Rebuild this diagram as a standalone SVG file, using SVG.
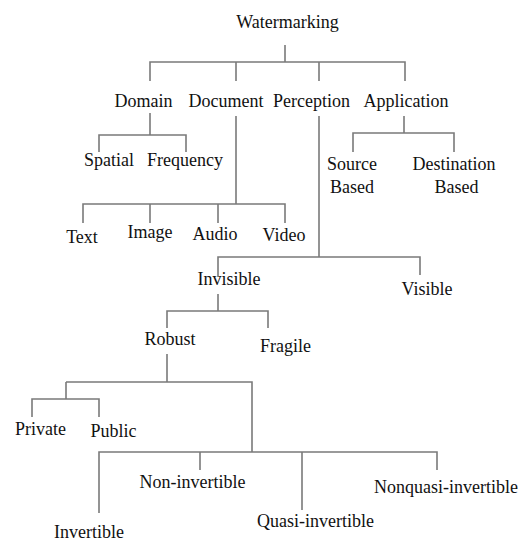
<svg xmlns="http://www.w3.org/2000/svg" width="524" height="542" viewBox="0 0 524 542">
<rect width="524" height="542" fill="#fff"/>
<g id="connectors" fill="none" stroke="#7a7a7a" stroke-width="1.6">
<path d="M285 45V62M150 81V62H405V81M236 62V81M319 62V81"/>
<path d="M150 113V135M99 152V135H186V152"/>
<path d="M404 116V133M353 152V133H454V152"/>
<path d="M236 116V204M83 223V204H285V223M150 204V223M218 204V223"/>
<path d="M319 116V257M218 277V257H420V275"/>
<path d="M218 294V311M167 328V311H268V328"/>
<path d="M167 354V382M66 382H252V452M66 382V399M32 417V399H99V417"/>
<path d="M99 513V452H437V470M200 452V470M302 452V510"/>
</g>
<g id="labels" font-family="Liberation Serif" font-size="18" fill="#111" text-anchor="middle">
<g id="n-watermarking"><text x="287.5" y="28">Watermarking</text></g>
<g id="n-domain"><text x="143.5" y="107">Domain</text></g>
<g id="n-document"><text x="226" y="107">Document</text></g>
<g id="n-perception"><text x="311.5" y="107">Perception</text></g>
<g id="n-application"><text x="406" y="107">Application</text></g>
<g id="n-spatial"><text x="109" y="166">Spatial</text></g>
<g id="n-frequency"><text x="185" y="166">Frequency</text></g>
<g id="n-source"><text x="352" y="170">Source</text><text x="352" y="193">Based</text></g>
<g id="n-destination"><text x="454" y="170">Destination</text><text x="456.5" y="193">Based</text></g>
<g id="n-text"><text x="82" y="243">Text</text></g>
<g id="n-image"><text x="150" y="238">Image</text></g>
<g id="n-audio"><text x="215" y="240">Audio</text></g>
<g id="n-video"><text x="284" y="241">Video</text></g>
<g id="n-invisible"><text x="229" y="285">Invisible</text></g>
<g id="n-visible"><text x="427" y="295">Visible</text></g>
<g id="n-robust"><text x="170" y="345">Robust</text></g>
<g id="n-fragile"><text x="285.5" y="352">Fragile</text></g>
<g id="n-private"><text x="40.5" y="435">Private</text></g>
<g id="n-public"><text x="113.5" y="437">Public</text></g>
<g id="n-invertible"><text x="89" y="538">Invertible</text></g>
<g id="n-noninvertible"><text x="192.5" y="488">Non-invertible</text></g>
<g id="n-quasiinvertible"><text x="315.5" y="527">Quasi-invertible</text></g>
<g id="n-nonquasiinvertible"><text x="446" y="493">Nonquasi-invertible</text></g>
</g>
</svg>
